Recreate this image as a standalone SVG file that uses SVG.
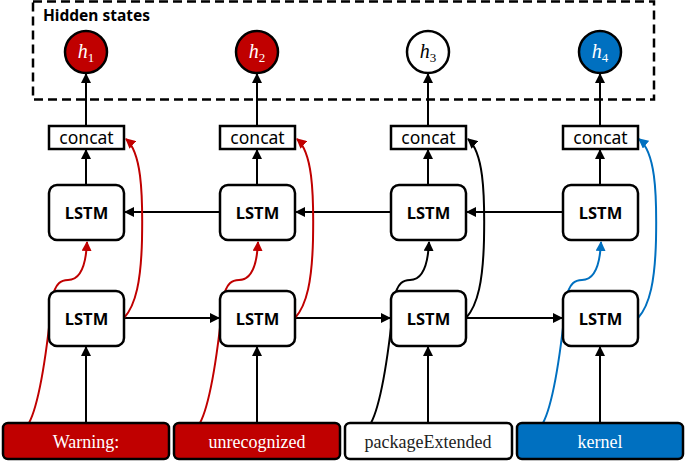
<svg xmlns="http://www.w3.org/2000/svg" width="685" height="461" viewBox="0 0 685 461">
<style>
.ln{fill:none;stroke:#000;stroke-width:2}
.lstm{fill:#fff;stroke:#000;stroke-width:2.5}
.cc{fill:#fff;stroke:#000;stroke-width:2.5}
.lt{font-family:"Noto Sans","Open Sans",sans-serif;font-weight:bold;font-size:16.5px;text-anchor:middle;fill:#000}
.ct{font-family:"Noto Sans","Open Sans",sans-serif;font-size:17.5px;text-anchor:middle;fill:#000}
.it{font-family:"Liberation Serif","Times New Roman",serif;font-size:18px;text-anchor:middle}
.ht{font-family:"Liberation Serif","Times New Roman",serif;font-style:italic;font-size:20px;text-anchor:middle}
.red{fill:#C00000}
.blue{fill:#0070C0}
.cr{fill:none;stroke:#C00000;stroke-width:2}
.cb{fill:none;stroke:#0070C0;stroke-width:2}
.ck{fill:none;stroke:#000;stroke-width:2}
</style>
<defs>
<marker id="ak" viewBox="0 0 10 10" refX="9" refY="5" markerWidth="5" markerHeight="5" orient="auto" markerUnits="strokeWidth"><path d="M0,0L10,5L0,10z" fill="#000"/></marker>
<marker id="ar" viewBox="0 0 10 10" refX="9" refY="5" markerWidth="5" markerHeight="5" orient="auto" markerUnits="strokeWidth"><path d="M0,0L10,5L0,10z" fill="#C00000"/></marker>
<marker id="ab" viewBox="0 0 10 10" refX="9" refY="5" markerWidth="5" markerHeight="5" orient="auto" markerUnits="strokeWidth"><path d="M0,0L10,5L0,10z" fill="#0070C0"/></marker>
</defs>
<rect width="685" height="461" fill="#fff"/>

<g id="hidden-states">
<rect x="33" y="1.5" width="621" height="98" fill="none" stroke="#000" stroke-width="2.5" stroke-dasharray="9,5"/>
<text x="43" y="21" font-family="'Noto Sans','Open Sans',sans-serif" font-weight="bold" font-size="15.5px" fill="#000">Hidden states</text>
</g>

<g id="connectors">
<line class="ln" x1="86" y1="423" x2="86" y2="347" marker-end="url(#ak)"/>
<line class="ln" x1="257" y1="423" x2="257" y2="347" marker-end="url(#ak)"/>
<line class="ln" x1="428" y1="423" x2="428" y2="347" marker-end="url(#ak)"/>
<line class="ln" x1="600" y1="423" x2="600" y2="347" marker-end="url(#ak)"/>
<line class="ln" x1="86" y1="185" x2="86" y2="150" marker-end="url(#ak)"/>
<line class="ln" x1="257" y1="185" x2="257" y2="150" marker-end="url(#ak)"/>
<line class="ln" x1="428" y1="185" x2="428" y2="150" marker-end="url(#ak)"/>
<line class="ln" x1="600" y1="185" x2="600" y2="150" marker-end="url(#ak)"/>
<line class="ln" x1="86" y1="126" x2="86" y2="74" marker-end="url(#ak)"/>
<line class="ln" x1="257" y1="126" x2="257" y2="74" marker-end="url(#ak)"/>
<line class="ln" x1="428" y1="126" x2="428" y2="74" marker-end="url(#ak)"/>
<line class="ln" x1="600" y1="126" x2="600" y2="74" marker-end="url(#ak)"/>
<line class="ln" x1="124" y1="318" x2="219" y2="318" marker-end="url(#ak)"/>
<line class="ln" x1="295" y1="318" x2="390" y2="318" marker-end="url(#ak)"/>
<line class="ln" x1="466" y1="318" x2="562" y2="318" marker-end="url(#ak)"/>
<line class="ln" x1="220" y1="212" x2="125" y2="212" marker-end="url(#ak)"/>
<line class="ln" x1="391" y1="212" x2="296" y2="212" marker-end="url(#ak)"/>
<line class="ln" x1="563" y1="212" x2="467" y2="212" marker-end="url(#ak)"/>
<path class="cr" d="M6,440 C18,437 26,430 29,423 C41,400 48,340 52,300 C55,282 62,280 68,280 C80,280 86,265 87,242" marker-end="url(#ar)"/>
<path class="cr" d="M177,440 C189,437 197,430 200,423 C212,400 219,340 223,300 C226,282 233,280 239,280 C251,280 257,265 258,242" marker-end="url(#ar)"/>
<path class="ck" d="M348,440 C360,437 368,430 371,423 C383,400 390,340 394,300 C397,282 404,280 410,280 C422,280 428,265 429,242" marker-end="url(#ak)"/>
<path class="cb" d="M520,440 C532,437 540,430 543,423 C555,400 562,340 566,300 C569,282 576,280 582,280 C594,280 600,265 601,242" marker-end="url(#ab)"/>
<path class="cr" d="M124,318 C136,305 141,280 142,240 C143,190 141,152 126,139" marker-end="url(#ar)"/>
<path class="cr" d="M295,318 C307,305 312,280 313,240 C314,190 312,152 297,139" marker-end="url(#ar)"/>
<path class="ck" d="M466,318 C478,305 483,280 484,240 C485,190 483,152 468,139" marker-end="url(#ak)"/>
<path class="cb" d="M638,318 C650,305 655,280 656,240 C657,190 655,152 639,139" marker-end="url(#ab)"/>
</g>

<g id="h1"><circle cx="86" cy="52" r="21" class="red" stroke="#000" stroke-width="2.5"/><text class="ht" x="86" y="58" fill="#fff">h<tspan font-size="13" font-style="normal" dy="4">1</tspan></text></g>
<g id="h2"><circle cx="257" cy="52" r="21" class="red" stroke="#000" stroke-width="2.5"/><text class="ht" x="257" y="58" fill="#fff">h<tspan font-size="13" font-style="normal" dy="4">2</tspan></text></g>
<g id="h3"><circle cx="428" cy="52" r="21" fill="#fff" stroke="#000" stroke-width="2.5"/><text class="ht" x="428" y="58" fill="#000">h<tspan font-size="13" font-style="normal" dy="4">3</tspan></text></g>
<g id="h4"><circle cx="600" cy="52" r="21" class="blue" stroke="#000" stroke-width="2.5"/><text class="ht" x="600" y="58" fill="#fff">h<tspan font-size="13" font-style="normal" dy="4">4</tspan></text></g>

<g id="concat1"><rect class="cc" x="49" y="126" width="75" height="23"/><text class="ct" x="86.5" y="143.5">concat</text></g>
<g id="concat2"><rect class="cc" x="220" y="126" width="75" height="23"/><text class="ct" x="257.5" y="143.5">concat</text></g>
<g id="concat3"><rect class="cc" x="391" y="126" width="75" height="23"/><text class="ct" x="428.5" y="143.5">concat</text></g>
<g id="concat4"><rect class="cc" x="563" y="126" width="75" height="23"/><text class="ct" x="600.5" y="143.5">concat</text></g>

<g id="lstm-b1"><rect class="lstm" x="49" y="185" width="75" height="55" rx="8"/><text class="lt" x="86.5" y="218.5">LSTM</text></g>
<g id="lstm-b2"><rect class="lstm" x="220" y="185" width="75" height="55" rx="8"/><text class="lt" x="257.5" y="218.5">LSTM</text></g>
<g id="lstm-b3"><rect class="lstm" x="391" y="185" width="75" height="55" rx="8"/><text class="lt" x="428.5" y="218.5">LSTM</text></g>
<g id="lstm-b4"><rect class="lstm" x="563" y="185" width="75" height="55" rx="8"/><text class="lt" x="600.5" y="218.5">LSTM</text></g>

<g id="lstm-f1"><rect class="lstm" x="49" y="291" width="75" height="55" rx="8"/><text class="lt" x="86.5" y="324.5">LSTM</text></g>
<g id="lstm-f2"><rect class="lstm" x="220" y="291" width="75" height="55" rx="8"/><text class="lt" x="257.5" y="324.5">LSTM</text></g>
<g id="lstm-f3"><rect class="lstm" x="391" y="291" width="75" height="55" rx="8"/><text class="lt" x="428.5" y="324.5">LSTM</text></g>
<g id="lstm-f4"><rect class="lstm" x="563" y="291" width="75" height="55" rx="8"/><text class="lt" x="600.5" y="324.5">LSTM</text></g>

<g id="in1"><rect x="3" y="423" width="166" height="36" rx="5" class="red" stroke="#000" stroke-width="2.5"/><text class="it" x="86" y="448" fill="#fff">Warning:</text></g>
<g id="in2"><rect x="174" y="423" width="166" height="36" rx="5" class="red" stroke="#000" stroke-width="2.5"/><text class="it" x="257" y="448" fill="#fff">unrecognized</text></g>
<g id="in3"><rect x="345" y="423" width="167" height="36" rx="5" fill="#fff" stroke="#000" stroke-width="2.5"/><text class="it" x="428" y="448" fill="#222">packageExtended</text></g>
<g id="in4"><rect x="517" y="423" width="166" height="36" rx="5" class="blue" stroke="#000" stroke-width="2.5"/><text class="it" x="600" y="448" fill="#fff">kernel</text></g>
</svg>
